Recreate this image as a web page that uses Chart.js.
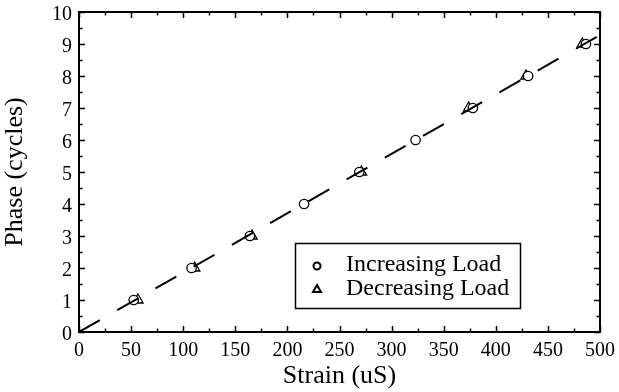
<!DOCTYPE html>
<html>
<head>
<meta charset="utf-8">
<script src="https://cdn.jsdelivr.net/npm/chart.js@4.4.1/dist/chart.umd.min.js"></script>
<style>
  html, body { margin: 0; padding: 0; background: #fff; }
  #wrap { width: 619px; height: 392px; }
</style>
</head>
<body>
<div id="wrap"><canvas id="chart"></canvas></div>
<script>
/* DATA */
const incStrain = [52.5, 108, 164, 216, 269, 323, 378, 431, 486.5];
const incPhase = [1, 2, 3, 4, 5, 6, 7, 8, 9];
const decStrain = [56.5, 111, 166, 271, 374, 429, 483];
const decPhase = [1, 2, 3, 5, 7, 8, 9];
const fitStrain = [0, 500];
const fitPhase = [0, 9.28];
const legendLabels = ["Increasing Load", "Decreasing Load"];

const serif = "'Liberation Serif', 'Times New Roman', serif";
const toPts = (xs, ys) => xs.map((x, i) => ({ x: x, y: ys[i] }));

// keep the plot box fixed: no extra room for overhanging end labels
function fixBox(s, w, h) {
  if (w) s.width = w;
  if (h) s.height = h;
  s.paddingTop = 0;
  s.paddingBottom = 0;
  s.paddingLeft = 0;
  s.paddingRight = 0;
}

// inward ticks on all four sides + top/right frame
const frameTicks = {
  id: "frameTicks",
  afterDraw(chart) {
    const { ctx, chartArea: a, scales } = chart;
    const xs = scales.x, ys = scales.y;
    ctx.save();
    ctx.strokeStyle = "#000";
    ctx.lineWidth = 2;
    ctx.strokeRect(a.left, a.top, a.right - a.left, a.bottom - a.top);
    ctx.lineWidth = 1.5;
    ctx.beginPath();
    for (let v = 0; v <= 500; v += 25) {
      const px = Math.round(xs.getPixelForValue(v)) + 0.5;
      const len = v % 50 === 0 ? 6 : 3.5;
      ctx.moveTo(px, a.bottom); ctx.lineTo(px, a.bottom - len);
      ctx.moveTo(px, a.top); ctx.lineTo(px, a.top + len);
    }
    for (let v = 0; v <= 10; v += 0.5) {
      const py = Math.round(ys.getPixelForValue(v)) + 0.5;
      const len = v % 1 === 0 ? 6 : 3.5;
      ctx.moveTo(a.left, py); ctx.lineTo(a.left + len, py);
      ctx.moveTo(a.right, py); ctx.lineTo(a.right - len, py);
    }
    ctx.stroke();
    ctx.restore();
  },
};

// boxed legend inside the plot
const boxLegend = {
  id: "boxLegend",
  afterDraw(chart) {
    const ctx = chart.ctx;
    ctx.save();
    ctx.strokeStyle = "#000";
    ctx.lineWidth = 1.5;
    ctx.strokeRect(295.5, 243.5, 225, 65);
    ctx.lineWidth = 2;
    // circle
    ctx.beginPath();
    ctx.arc(317, 266, 3.5, 0, Math.PI * 2);
    ctx.stroke();
    // triangle
    ctx.beginPath();
    ctx.moveTo(317, 285); ctx.lineTo(321, 292); ctx.lineTo(313, 292); ctx.closePath();
    ctx.stroke();
    ctx.fillStyle = "#000";
    ctx.font = "24px " + serif;
    ctx.textBaseline = "middle";
    ctx.fillText(legendLabels[0], 346, 265);
    ctx.fillText(legendLabels[1], 346, 289);
    ctx.restore();
  },
};

new Chart(document.getElementById("chart"), {
  type: "scatter",
  data: {
    datasets: [
      {
        type: "line",
        label: "fit",
        data: toPts(fitStrain, fitPhase),
        borderColor: "#000",
        borderWidth: 2,
        borderDash: [24, 20],
        pointRadius: 0,
        order: 0,
      },
      {
        label: legendLabels[0],
        data: toPts(incStrain, incPhase),
        pointStyle: "circle",
        pointRadius: 4.7,
        borderColor: "#000",
        backgroundColor: "#fff",
        borderWidth: 1.3,
        order: 1,
      },
      {
        label: legendLabels[1],
        data: toPts(decStrain, decPhase),
        pointStyle: "triangle",
        pointRadius: 6,
        borderColor: "#000",
        backgroundColor: "#fff",
        borderWidth: 1.3,
        order: 2,
      },
    ],
  },
  options: {
    responsive: true,
    maintainAspectRatio: false,
    animation: false,
    events: [],
    layout: { padding: { top: 12, right: 19, left: 0, bottom: 0 } },
    plugins: { legend: { display: false }, tooltip: { enabled: false } },
    scales: {
      x: {
        type: "linear",
        min: 0,
        max: 500,
        afterFit: (s) => fixBox(s, 0, 60),
        grid: { display: false, drawTicks: false },
        border: { display: false },
        ticks: { stepSize: 50, padding: 7, color: "#000", font: { family: serif, size: 20 } },
        title: {
          display: true,
          text: "Strain (uS)",
          color: "#000",
          font: { family: serif, size: 26 },
          padding: { top: 0, bottom: 0 },
        },
      },
      y: {
        type: "linear",
        min: 0,
        max: 10,
        afterFit: (s) => fixBox(s, 79, 0),
        grid: { display: false, drawTicks: false },
        border: { display: false },
        ticks: { stepSize: 1, padding: 7, labelOffset: 2.5, color: "#000", font: { family: serif, size: 20 } },
        title: {
          display: true,
          text: "Phase (cycles)",
          color: "#000",
          font: { family: serif, size: 26 },
          padding: { top: 0, bottom: 0 },
        },
      },
    },
  },
  plugins: [frameTicks, boxLegend],
});
</script>
</body>
</html>
